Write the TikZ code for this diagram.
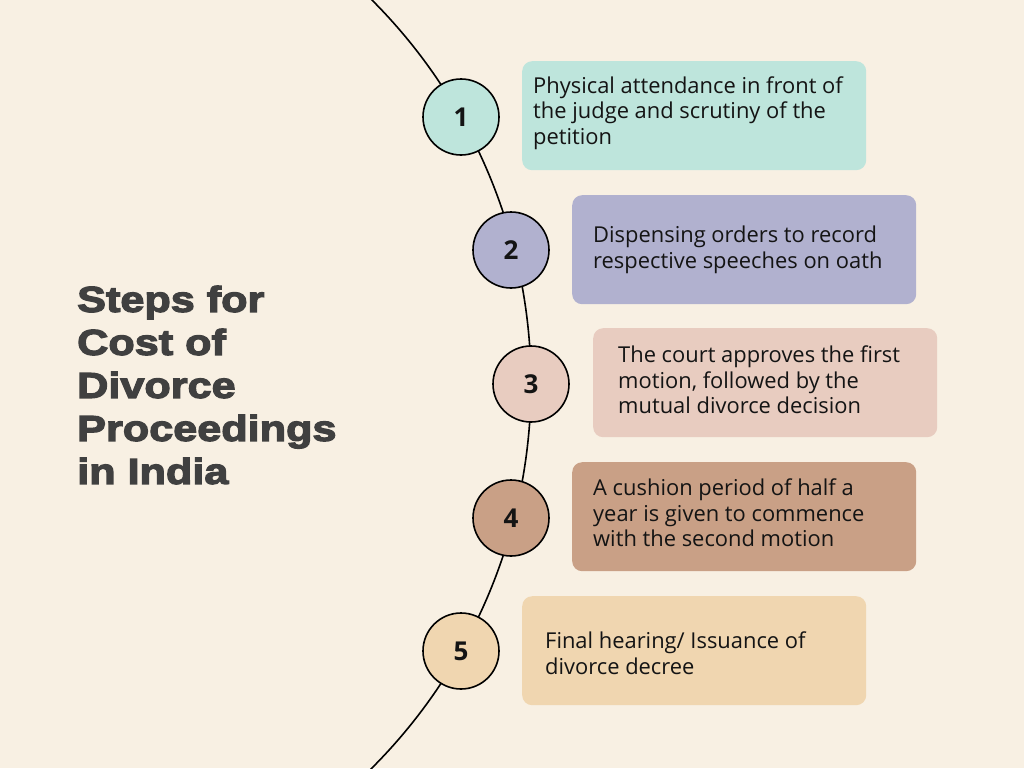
\documentclass[tikz,border=0pt]{standalone}
\usepackage{fontspec}
\setmainfont{Open Sans}
\newfontfamily\titlefont[FakeBold=3.5,FakeStretch=1.2]{Liberation Sans Bold}
\newfontfamily\numfont{Open Sans Bold}
\definecolor{bg}{RGB}{248,240,227}
\definecolor{cA}{RGB}{190,229,220}
\definecolor{cB}{RGB}{177,177,207}
\definecolor{cC}{RGB}{232,204,192}
\definecolor{cD}{RGB}{201,160,134}
\definecolor{cE}{RGB}{240,214,176}
\definecolor{titlec}{RGB}{64,64,64}
\definecolor{ink}{RGB}{20,20,20}
\tikzset{
  stepnum/.style={circle, draw=black, line width=1.6pt, minimum size=76pt, inner sep=0pt,
    font=\numfont\fontsize{26}{30}\selectfont, text=ink},
  stepbox/.style={draw=none, rounded corners=10pt, minimum width=344pt, minimum height=109pt, anchor=north west},
  steptext/.style={anchor=west, align=left, inner sep=0pt, text=ink,
    font=\fontsize{21.9}{25.5}\selectfont},
}
\begin{document}
\begin{tikzpicture}[x=1pt,y=-1pt]
\useasboundingbox (0,0) rectangle (1024,768);
\fill[bg] (0,0) rectangle (1024,768);
\begin{scope}
\clip (0,0) rectangle (1024,768);
\draw[line width=1.6pt] (-12,384) ++(-50:543) arc[start angle=-50,end angle=50,radius=543];
\end{scope}
% boxes
\node[stepbox, fill=cA] (b1) at (522,61) {};
\node[stepbox, fill=cB] (b2) at (572,195) {};
\node[stepbox, fill=cC] (b3) at (593,328) {};
\node[stepbox, fill=cD] (b4) at (572,462) {};
\node[stepbox, fill=cE] (b5) at (522,596) {};
% texts
\node[steptext] (t1) at (533,113) {Physical attendance in front of\\the judge and scrutiny of the\\petition};
\node[steptext] (t2) at (593,250) {Dispensing orders to record\\respective speeches on oath};
\node[steptext] (t3) at (618,380) {The court approves the first\\motion, followed by the\\mutual divorce decision};
\node[steptext] (t4) at (593,513) {A cushion period of half a\\year is given to commence\\with the second motion};
\node[steptext] (t5) at (545,653) {Final hearing/ Issuance of\\divorce decree};
% circles
\node[stepnum, fill=cA] (n1) at (461,117) {1};
\node[stepnum, fill=cB] (n2) at (511,250) {2};
\node[stepnum, fill=cC] (n3) at (531,384) {3};
\node[stepnum, fill=cD] (n4) at (511,518) {4};
\node[stepnum, fill=cE] (n5) at (461,651) {5};
% title
\node[anchor=west, align=left, inner sep=0pt, text=titlec,
  font=\titlefont\fontsize{36}{43}\selectfont] (title) at (77,385)
  {Steps for\\Cost of\\Divorce\\Proceedings\\in India};
\end{tikzpicture}
\end{document}
